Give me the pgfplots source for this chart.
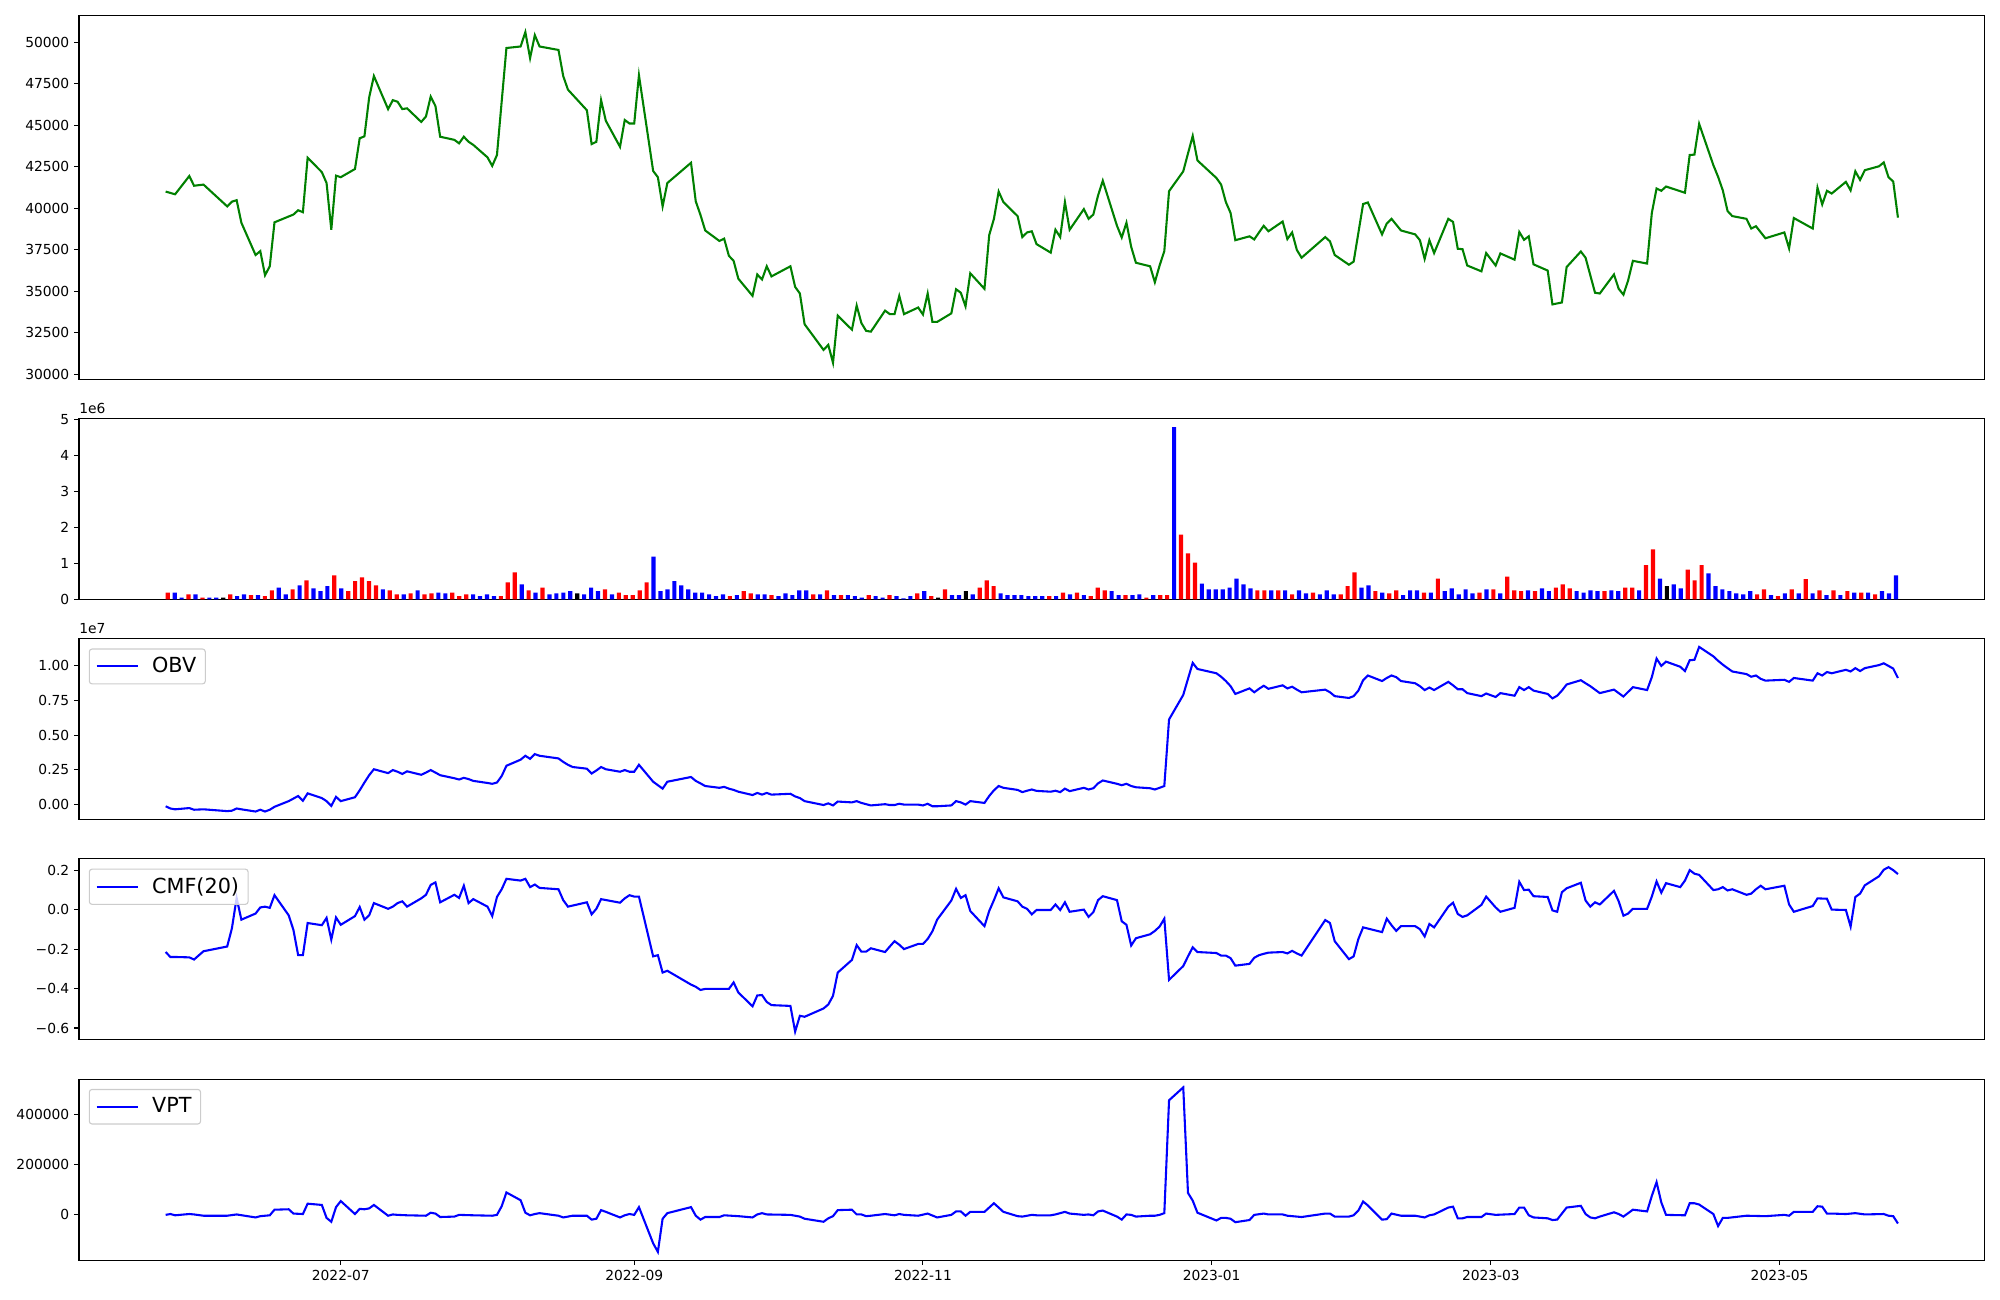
\documentclass[border=0pt]{standalone}
\usepackage{fontspec}
\setmainfont{DejaVu Sans}
\usepackage{pgfplots}
\usepackage{pgfplotstable}
\pgfplotsset{compat=1.18}
\definecolor{mplgreen}{HTML}{008000}
\definecolor{mplblue}{HTML}{0000FF}
\definecolor{mplred}{HTML}{FF0000}

% x = calendar days after 2022-07-01
\pgfplotstableread{
x y
-37 41007
-35 40843
-32 41944
-31 41358
-29 41428
-24 40117
-23 40398
-22 40491
-21 39133
-18 37189
-17 37424
-16 35972
-15 36510
-14 39157
-10 39625
-9 39883
-8 39766
-7 43044
-4 42178
-3 41522
-2 38711
-1 41967
0 41873
3 42365
4 44215
5 44332
6 46674
7 47962
10 45972
11 46511
12 46417
13 45972
14 46019
17 45199
18 45527
19 46721
20 46159
21 44309
24 44121
25 43911
26 44309
27 44004
28 43817
31 43068
32 42552
33 43208
35 49649
38 49742
39 50609
40 49040
41 50422
42 49742
46 49532
47 47962
48 47143
52 45902
53 43864
54 44004
55 46510
56 45269
59 43700
60 45316
61 45105
62 45105
63 48009
66 42248
67 41873
68 40117
69 41522
74 42740
75 40421
76 39602
77 38665
80 38033
81 38173
82 37142
83 36838
84 35761
87 34730
88 36018
89 35714
90 36510
91 35901
95 36510
96 35269
97 34871
98 33020
102 31475
103 31779
104 30702
105 33536
108 32693
109 34145
110 33091
111 32622
112 32575
115 33840
116 33630
117 33630
118 34730
119 33630
122 34028
123 33607
124 34871
125 33161
126 33161
129 33676
130 35128
131 34917
132 34098
133 36089
136 35152
137 38384
138 39367
139 41007
140 40374
143 39531
144 38267
145 38548
146 38618
147 37845
150 37330
151 38711
152 38267
153 40374
154 38711
157 39953
158 39367
159 39625
160 40772
161 41662
164 38946
165 38243
166 39133
167 37681
168 36721
171 36510
172 35550
173 36557
174 37424
175 41030
178 42225
179 43302
180 44356
181 42880
185 41826
186 41428
187 40374
188 39719
189 38080
192 38313
193 38126
194 38548
195 38946
196 38618
199 39204
200 38150
201 38548
202 37494
203 37025
208 38267
209 38009
210 37189
213 36604
214 36791
216 40257
217 40351
220 38431
221 39086
222 39367
224 38665
227 38431
228 38080
229 36955
230 38080
231 37306
234 39367
235 39180
236 37564
237 37541
238 36557
241 36205
242 37306
244 36557
245 37283
248 36908
249 38571
250 38103
251 38313
252 36627
255 36252
256 34215
258 34332
259 36463
262 37400
263 37025
264 35971
265 34917
266 34871
269 36018
270 35152
271 34800
272 35667
273 36838
276 36674
277 39719
278 41194
279 41054
280 41311
284 40936
285 43208
286 43232
287 45082
290 42599
291 41897
292 41077
293 39836
294 39531
297 39367
298 38782
299 38922
301 38196
305 38548
306 37588
307 39414
311 38782
312 41241
313 40234
314 41054
315 40889
318 41592
319 41077
320 42225
321 41709
322 42295
325 42529
326 42763
327 41873
328 41616
329 39438
}\price

% volume bars, x = trading day index, y in millions
\pgfplotstableread{
x y
0 0.19
3 0.14
5 0.05
9 0.14
12 0.12
14 0.09
15 0.25
18 0.28
20 0.53
24 0.67
26 0.23
27 0.51
28 0.61
29 0.51
30 0.39
32 0.25
33 0.14
35 0.17
37 0.14
38 0.17
41 0.19
42 0.09
43 0.14
48 0.09
49 0.47
50 0.75
52 0.25
54 0.33
63 0.28
65 0.19
66 0.12
67 0.12
68 0.25
69 0.47
81 0.09
83 0.23
84 0.17
87 0.12
93 0.14
95 0.25
97 0.12
101 0.12
104 0.12
108 0.17
110 0.09
112 0.28
117 0.33
118 0.53
119 0.37
127 0.09
129 0.19
131 0.19
133 0.09
134 0.33
135 0.25
138 0.12
141 0.05
143 0.12
144 0.12
146 1.80
147 1.28
148 1.02
157 0.25
158 0.25
160 0.25
162 0.14
165 0.19
169 0.14
170 0.37
171 0.75
174 0.23
176 0.17
177 0.25
181 0.19
183 0.58
189 0.19
191 0.28
193 0.63
194 0.25
195 0.23
197 0.23
200 0.33
201 0.42
202 0.31
207 0.23
210 0.33
211 0.33
213 0.95
214 1.39
219 0.83
220 0.53
221 0.95
229 0.14
230 0.28
232 0.09
234 0.28
236 0.56
238 0.25
240 0.25
242 0.23
244 0.19
246 0.14
}\volred

\pgfplotstableread{
x y
1 0.19
2 0.05
4 0.14
6 0.05
7 0.05
10 0.09
11 0.14
13 0.12
16 0.33
17 0.14
19 0.39
21 0.31
22 0.23
23 0.37
25 0.31
31 0.28
34 0.14
36 0.25
39 0.19
40 0.17
44 0.14
45 0.09
46 0.14
47 0.09
51 0.42
53 0.19
55 0.14
56 0.17
57 0.19
58 0.23
60 0.14
61 0.33
62 0.23
64 0.14
70 1.19
71 0.23
72 0.28
73 0.51
74 0.39
75 0.28
76 0.19
77 0.19
78 0.14
79 0.09
80 0.14
82 0.12
85 0.14
86 0.14
88 0.09
89 0.17
90 0.12
91 0.25
92 0.25
94 0.14
96 0.12
98 0.12
99 0.09
100 0.05
102 0.09
103 0.05
105 0.09
106 0.03
107 0.09
109 0.23
113 0.12
114 0.12
116 0.14
120 0.17
121 0.12
122 0.12
123 0.12
124 0.09
125 0.09
126 0.09
128 0.09
130 0.14
132 0.12
136 0.23
137 0.12
139 0.12
140 0.14
142 0.12
145 4.78
149 0.44
150 0.28
151 0.28
152 0.28
153 0.33
154 0.58
155 0.42
156 0.31
159 0.25
161 0.25
163 0.25
164 0.17
166 0.14
167 0.25
168 0.14
172 0.33
173 0.39
175 0.19
178 0.12
179 0.25
180 0.25
182 0.19
184 0.23
185 0.31
186 0.14
187 0.28
188 0.17
190 0.28
192 0.17
196 0.25
198 0.31
199 0.23
203 0.23
204 0.19
205 0.25
206 0.23
208 0.25
209 0.23
212 0.25
215 0.58
217 0.42
218 0.31
222 0.72
223 0.37
224 0.28
225 0.23
226 0.17
227 0.14
228 0.23
231 0.12
233 0.17
235 0.17
237 0.17
239 0.12
241 0.12
243 0.19
245 0.19
247 0.23
248 0.17
249 0.67
}\volblue

\pgfplotstableread{
x y
8 0.05
59 0.17
111 0.05
115 0.23
216 0.37
}\volblack

% OBV in units of 1e7
\pgfplotstableread{
x y
-37 -0.012
-36 -0.028
-35 -0.034
-32 -0.025
-31 -0.037
-29 -0.034
-24 -0.047
-23 -0.044
-22 -0.028
-21 -0.034
-18 -0.050
-17 -0.037
-16 -0.050
-15 -0.037
-14 -0.016
-11 0.025
-9 0.062
-8 0.028
-7 0.081
-4 0.047
-3 0.025
-2 -0.009
-1 0.056
0 0.025
3 0.053
4 0.103
5 0.159
6 0.212
7 0.255
10 0.227
11 0.249
12 0.237
13 0.221
14 0.240
17 0.215
18 0.231
19 0.249
20 0.231
21 0.212
24 0.190
25 0.181
26 0.193
27 0.184
28 0.171
31 0.156
32 0.150
33 0.159
34 0.206
35 0.280
38 0.324
39 0.352
40 0.330
41 0.364
42 0.352
46 0.333
47 0.308
48 0.287
49 0.271
52 0.259
53 0.224
54 0.246
55 0.271
56 0.255
59 0.237
60 0.249
61 0.237
62 0.237
63 0.287
66 0.165
67 0.140
68 0.115
69 0.165
74 0.199
75 0.171
76 0.153
77 0.134
80 0.121
81 0.128
82 0.115
83 0.106
84 0.093
87 0.069
88 0.084
89 0.072
90 0.084
91 0.072
95 0.078
96 0.059
97 0.047
98 0.025
102 -0.003
103 0.009
104 -0.006
105 0.022
108 0.016
109 0.025
110 0.012
111 0.003
112 -0.006
115 0.003
116 -0.003
117 -0.003
118 0.006
119 0.000
122 0.000
123 -0.006
124 0.006
125 -0.012
126 -0.012
129 -0.006
130 0.025
131 0.016
132 0.000
133 0.025
136 0.012
137 0.062
138 0.103
139 0.134
140 0.121
143 0.106
144 0.090
145 0.100
146 0.109
147 0.099
150 0.093
151 0.100
152 0.090
153 0.115
154 0.097
157 0.121
158 0.109
159 0.118
160 0.153
161 0.174
164 0.150
165 0.140
166 0.150
167 0.134
168 0.125
171 0.118
172 0.109
173 0.121
174 0.134
175 0.614
178 0.791
179 0.907
180 1.022
181 0.978
185 0.947
186 0.922
187 0.891
188 0.854
189 0.798
192 0.838
193 0.810
194 0.835
195 0.857
196 0.835
199 0.860
200 0.838
201 0.850
202 0.829
203 0.810
208 0.829
209 0.810
210 0.782
213 0.769
214 0.782
215 0.822
216 0.897
217 0.931
220 0.891
221 0.913
222 0.931
223 0.919
224 0.891
227 0.875
228 0.854
229 0.826
230 0.844
231 0.826
234 0.885
235 0.860
236 0.832
237 0.832
238 0.804
241 0.782
242 0.801
244 0.776
245 0.804
248 0.785
249 0.847
250 0.826
251 0.847
252 0.822
255 0.798
256 0.766
257 0.785
258 0.822
259 0.866
262 0.897
263 0.875
264 0.854
265 0.829
266 0.804
269 0.829
270 0.804
271 0.779
272 0.813
273 0.847
276 0.826
277 0.919
278 1.053
279 1.000
280 1.031
283 0.994
284 0.963
285 1.041
286 1.044
287 1.137
290 1.069
291 1.037
292 1.009
293 0.984
294 0.960
297 0.941
298 0.922
299 0.931
300 0.907
301 0.894
305 0.900
306 0.885
307 0.913
311 0.894
312 0.947
313 0.931
314 0.956
315 0.947
318 0.972
319 0.960
320 0.984
321 0.963
322 0.984
325 1.006
326 1.019
327 1.000
328 0.981
329 0.913
}\obv

\pgfplotstableread{
x y
-37 -0.215
-36 -0.240
-35 -0.240
-32 -0.242
-31 -0.253
-29 -0.211
-24 -0.187
-23 -0.095
-22 0.059
-21 -0.051
-18 -0.020
-17 0.011
-16 0.015
-15 0.009
-14 0.073
-11 -0.029
-10 -0.103
-9 -0.231
-8 -0.231
-7 -0.068
-4 -0.079
-3 -0.042
-2 -0.152
-1 -0.040
0 -0.077
3 -0.033
4 0.013
5 -0.051
6 -0.029
7 0.033
10 0.004
11 0.015
12 0.033
13 0.042
14 0.015
17 0.057
18 0.075
19 0.125
20 0.138
21 0.037
24 0.075
25 0.059
26 0.121
27 0.033
28 0.053
31 0.015
32 -0.033
33 0.064
34 0.103
35 0.156
38 0.147
39 0.156
40 0.114
41 0.127
42 0.110
46 0.103
47 0.048
48 0.015
52 0.037
53 -0.024
54 0.004
55 0.053
59 0.035
60 0.057
61 0.073
62 0.066
63 0.066
66 -0.237
67 -0.231
68 -0.319
69 -0.310
74 -0.380
75 -0.391
76 -0.407
77 -0.402
80 -0.402
82 -0.402
83 -0.369
84 -0.420
87 -0.490
88 -0.435
89 -0.433
90 -0.468
91 -0.484
95 -0.488
96 -0.618
97 -0.538
98 -0.543
102 -0.501
103 -0.481
104 -0.437
105 -0.319
108 -0.255
109 -0.180
110 -0.213
111 -0.213
112 -0.196
115 -0.215
116 -0.187
117 -0.160
118 -0.178
119 -0.200
122 -0.174
123 -0.174
124 -0.149
125 -0.110
126 -0.051
129 0.046
130 0.105
131 0.059
132 0.073
133 -0.007
136 -0.084
137 -0.007
138 0.048
139 0.108
140 0.062
143 0.042
144 0.015
145 0.004
146 -0.024
147 -0.002
150 -0.002
151 0.026
152 -0.002
153 0.037
154 -0.011
157 0.000
158 -0.037
159 -0.013
160 0.048
161 0.068
164 0.048
165 -0.059
166 -0.077
167 -0.182
168 -0.145
171 -0.125
172 -0.108
173 -0.086
174 -0.046
175 -0.356
178 -0.286
179 -0.237
180 -0.191
181 -0.215
185 -0.220
186 -0.233
187 -0.233
188 -0.246
189 -0.284
192 -0.275
193 -0.244
194 -0.231
195 -0.224
196 -0.218
199 -0.215
200 -0.222
201 -0.209
202 -0.222
203 -0.233
208 -0.053
209 -0.068
210 -0.160
213 -0.251
214 -0.237
215 -0.149
216 -0.090
220 -0.114
221 -0.046
222 -0.079
223 -0.108
224 -0.084
227 -0.084
228 -0.099
229 -0.136
230 -0.073
231 -0.090
234 0.015
235 0.035
236 -0.022
237 -0.037
238 -0.029
241 0.024
242 0.066
244 0.011
245 -0.011
248 0.009
249 0.141
250 0.099
251 0.101
252 0.068
255 0.064
256 -0.004
257 -0.011
258 0.088
259 0.108
262 0.136
263 0.046
264 0.015
265 0.037
266 0.026
269 0.095
270 0.042
271 -0.031
272 -0.020
273 0.004
276 0.004
277 0.066
278 0.143
279 0.086
280 0.134
283 0.114
284 0.147
285 0.200
286 0.182
287 0.176
290 0.099
291 0.103
292 0.114
293 0.097
294 0.103
297 0.075
298 0.081
299 0.103
300 0.121
301 0.103
305 0.121
306 0.026
307 -0.011
311 0.018
312 0.057
314 0.055
315 0.000
318 -0.002
319 -0.086
320 0.064
321 0.081
322 0.123
325 0.169
326 0.202
327 0.215
328 0.200
329 0.180
}\cmf

\pgfplotstableread{
x y
-37 0
-36 3400
-35 -1700
-32 3400
-31 1700
-29 -3400
-24 -3400
-22 1700
-18 -10300
-17 -5200
-15 -1700
-14 20700
-11 22400
-10 5200
-8 3400
-7 44800
-4 39700
-3 -12100
-2 -27600
-1 31000
0 55200
3 3400
4 24100
5 22400
6 25900
7 39700
10 -3400
11 1700
12 0
14 -1700
18 -3400
19 8600
20 5200
21 -8600
24 -6900
25 0
28 -1700
32 -3400
33 0
34 34500
35 89600
38 58600
39 8600
40 -1700
41 3400
42 6900
46 -3400
47 -10300
48 -6900
49 -3400
52 -3400
53 -19000
54 -15500
55 19000
56 12100
59 -10300
60 -1700
61 3400
62 0
63 31000
66 -113800
67 -148300
68 -15500
69 6900
74 31000
75 -3400
76 -19000
77 -8600
80 -8600
81 -1700
84 -5200
87 -10300
88 1700
89 6900
90 1700
95 0
97 -6900
98 -15500
102 -27600
103 -13800
104 -5200
105 19000
108 20700
109 1700
110 1700
111 -5200
112 -3400
115 3400
117 -1700
118 3400
119 0
122 -3400
124 5200
126 -10300
129 0
130 13800
131 13800
132 -3400
133 12100
136 12100
137 29300
138 46500
139 29300
140 12100
143 -5200
144 -6900
146 0
147 -1700
150 -1700
151 1700
153 12100
154 5200
157 0
158 1700
159 -1700
160 13800
161 17200
164 -6900
165 -19000
166 1700
167 0
168 -6900
171 -3400
172 -3400
173 0
174 6900
175 458600
178 510300
179 87900
180 56900
181 8600
185 -22400
186 -12100
187 -12100
188 -15500
189 -29300
192 -20700
193 0
195 5200
196 1700
199 1700
200 -3400
203 -8600
208 5200
209 5200
210 -6900
213 -6900
214 -1700
215 17200
216 53400
217 37900
220 -19000
221 -17200
222 5200
224 -3400
227 -3400
229 -10300
230 -1700
231 1700
234 29300
235 32800
236 -13800
237 -13800
238 -8600
241 -8600
242 5200
244 0
248 3400
249 29300
250 29300
251 -1700
252 -10300
255 -13800
256 -20700
257 -19000
259 29300
262 36200
263 3400
264 -10300
265 -13800
266 -6900
269 10300
270 3400
271 -6900
272 6900
273 20700
276 13800
277 75900
278 131000
279 50000
280 0
284 -1700
285 46500
286 46500
287 41400
290 3400
291 -44800
292 -12100
293 -12100
297 -3400
301 -5200
305 0
306 -3400
307 12100
311 12100
312 34500
313 32800
314 5200
315 5200
318 3400
320 6900
322 1700
326 3400
327 -3400
328 -5200
329 -34500
}\vpt

\pgfplotsset{
  panel/.style={
    scale only axis, width=1372bp, anchor=south west,
    xmin=-55.3, xmax=347.3, xtick=\empty,
    scaled y ticks=false, scaled x ticks=false,
    ytick pos=left, tick align=outside, major tick length=3.5bp,
    axis line style={line width=0.8bp},
    every tick/.append style={line width=0.8bp, black},
    tick label style={font=\fontsize{10}{12}\selectfont},
  },
  leg/.style={
    legend cell align=left,
    legend image code/.code={\draw[##1] (0bp,0bp) -- (30bp,0bp); \path[draw=none] (0bp,0bp) -- (38bp,0bp);},
    legend style={at={(0,1)}, anchor=north west, xshift=7bp, yshift=-7bp,
      draw=black!20, line width=0.8bp, rounded corners=2bp, fill=white,
      fill opacity=0.8, text opacity=1, font=\fontsize{15}{18}\selectfont,
      inner xsep=4.5bp, inner ysep=4bp, nodes={inner sep=2bp, text depth=0.2em}},
  },
}

\begin{document}
\begin{tikzpicture}
\path[use as bounding box] (0,0) rectangle (1440bp,936bp);

% close price
\begin{axis}[panel, at={(56.9bp,662.9bp)}, height=261.9bp,
  ymin=29707, ymax=51604,
  ytick={30000,32500,35000,37500,40000,42500,45000,47500,50000},
  yticklabels={30000,32500,35000,37500,40000,42500,45000,47500,50000}]
\addplot[color=mplgreen, line width=1.5bp] table {\price};
\end{axis}

% volume
\begin{axis}[panel, name=vol, at={(56.9bp,504.4bp)}, height=130.3bp,
  xmin=-12.78, xmax=261.78, ymin=0, ymax=5.02,
  ytick={0,1,2,3,4,5}, yticklabels={0,1,2,3,4,5}]
\addplot[ybar, bar width=0.6, bar shift=0pt, fill=mplred, draw=none] table {\volred};
\addplot[ybar, bar width=0.6, bar shift=0pt, fill=mplblue, draw=none] table {\volblue};
\addplot[ybar, bar width=0.6, bar shift=0pt, fill=black, draw=none] table {\volblack};
\end{axis}
\node[anchor=south west, inner sep=0pt, font=\fontsize{10}{12}\selectfont] at ([yshift=3.5bp]vol.north west) {1e6};

% OBV
\begin{axis}[panel, leg, name=obv, at={(56.9bp,345.8bp)}, height=130.3bp,
  ymin=-0.109, ymax=1.196,
  ytick={0,0.25,0.5,0.75,1}, yticklabels={0.00,0.25,0.50,0.75,1.00}]
\addplot[color=mplblue, line width=1.5bp] table {\obv};
\addlegendentry{OBV}
\end{axis}
\node[anchor=south west, inner sep=0pt, font=\fontsize{10}{12}\selectfont] at ([yshift=3.5bp]obv.north west) {1e7};

% CMF
\begin{axis}[panel, leg, at={(56.9bp,187.3bp)}, height=130.3bp,
  ymin=-0.660, ymax=0.257,
  ytick={-0.6,-0.4,-0.2,0,0.2}, yticklabels={−0.6,−0.4,−0.2,0.0,0.2}]
\addplot[color=mplblue, line width=1.5bp] table {\cmf};
\addlegendentry{CMF(20)}
\end{axis}

% VPT
\begin{axis}[panel, leg, at={(56.9bp,28.7bp)}, height=130.3bp,
  ymin=-181200, ymax=543200,
  ytick={0,200000,400000}, yticklabels={0,200000,400000},
  xtick pos=bottom, xtick={0,62,123,184,243,304},
  xticklabels={2022-07,2022-09,2022-11,2023-01,2023-03,2023-05}]
\addplot[color=mplblue, line width=1.5bp] table {\vpt};
\addlegendentry{VPT}
\end{axis}
\end{tikzpicture}
\end{document}
